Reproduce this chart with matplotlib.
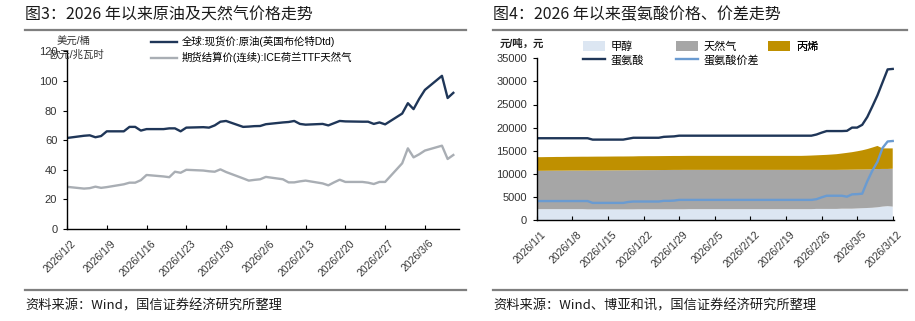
import pandas as pd
import numpy as np
import matplotlib
matplotlib.use("Agg")
from matplotlib import pyplot as plt
import matplotlib.transforms as mtransforms
from matplotlib.lines import Line2D

plt.rcParams['font.family'] = ['Liberation Sans', 'Noto Sans CJK SC', 'DejaVu Sans']
plt.rcParams['axes.unicode_minus'] = False

# ---------------- left chart: Brent / TTF (business days) ----------------
oil_dates = pd.bdate_range('2026-01-02', '2026-03-11')
brent = [61.5, 63.0, 63.3, 62.0, 62.8, 66.0, 66.0, 69.0, 69.0, 66.5, 67.5, 67.5, 68.0, 68.0,
         66.0, 68.5, 68.8, 68.5, 70.0, 72.5, 73.0,
         69.0, 69.2, 69.5, 69.6, 70.8, 72.0, 72.3, 73.0, 71.0, 70.5, 71.0, 70.0, 71.5, 73.0,
         72.7, 72.5, 72.5, 71.0, 72.0, 70.7,
         78.0, 85.0, 81.0, 88.0, 94.0, 103.5, 88.5, 92.0]
ttf = [28.5, 27.3, 27.6, 28.6, 27.8, 28.3, 30.2, 31.3, 31.3, 33.0, 36.5, 35.5, 35.0, 38.7,
       38.0, 40.0, 39.5, 39.0, 38.7, 40.3, 38.5,
       34.2, 32.7, 33.2, 33.6, 35.2, 33.6, 31.5, 31.5, 32.2, 32.7, 30.8, 29.5, 31.5, 33.3,
       31.8, 31.8, 31.3, 30.4, 31.8, 31.8,
       44.4, 54.5, 48.4, 50.5, 53.0, 56.3, 47.3, 50.0]
oil_ticks = pd.date_range('2026-01-02', '2026-03-06', freq='7D')

# ---------------- right chart: methionine (daily) ----------------
met_dates = pd.date_range('2026-01-01', '2026-03-12')
methanol = [2350] * 10 + [2300] * 10 + [2320] * 10 + [2350] * 25 + [2400] * 5 + \
           [2450, 2450, 2450, 2500, 2550, 2600, 2650, 2750, 2900, 3000, 2900]
gas = [8300, 8300, 8310, 8320, 8330, 8330, 8340, 8350, 8350, 8360,
       8400, 8410, 8420, 8420, 8430, 8440, 8450, 8450, 8460, 8470,
       8460, 8470, 8480, 8480, 8490, 8500, 8510, 8520, 8520, 8530] + [8500] * 25 + \
      [8450] * 5 + [8420, 8430, 8450, 8420, 8380, 8350, 8330, 8280, 8150, 8050, 8200]
propylene = [2950, 2950, 2960, 2960, 2970, 2970, 2980, 2980, 2990, 2990] + [3000] * 10 + \
            [3020] * 10 + [3030] * 23 + \
            [3060, 3100, 3150, 3200, 3250, 3320, 3400, 3520, 3650, 3780, 3950, 4150, 4400,
             4700, 5000, 4450, 4450, 4400]
methionine = [17700] * 11 + [17400] * 7 + [17600] + [17800] * 6 + [18000, 18050, 18100] + \
             [18250] * 27 + [18500, 18900, 19250, 19250, 19250, 19250, 19300, 20000, 20000,
                             20600, 22300, 24600, 27000, 29800, 32600, 32700]
spread = [4100] * 11 + [3700] * 7 + [3900] + [4000] * 6 + [4150, 4150, 4200] + \
         [4350] * 27 + [4500, 4900, 5250, 5250, 5250, 5250, 5050, 5550, 5600,
                        5700, 8400, 10700, 12600, 15600, 17000, 17100]
met_ticks = pd.date_range('2026-01-01', '2026-03-12', freq='7D')

W, H = 915, 321
fig = plt.figure(figsize=(W / 100, H / 100), dpi=100)


def fx(px):
    return px / W


def fy(py):
    return 1 - py / H


title_font = dict(family=['Noto Sans CJK SC'], fontsize=11.5, color='#1a1a1a')
src_font = dict(family=['Noto Sans CJK SC'], fontsize=9.5, color='#1a1a1a')

fig.text(fx(25), fy(15), '图3：2026 年以来原油及天然气价格走势', va='center', ha='left', **title_font)
fig.text(fx(493), fy(15), '图4：2026 年以来蛋氨酸价格、价差走势', va='center', ha='left', **title_font)
for x0, x1 in [(25, 466), (493, 907)]:
    fig.add_artist(Line2D([fx(x0), fx(x1)], [fy(30), fy(30)], color='#7f7f7f', lw=1.6))
    fig.add_artist(Line2D([fx(x0), fx(x1)], [fy(290), fy(290)], color='#7f7f7f', lw=1.6))
fig.text(fx(25), fy(306), '资料来源：Wind，国信证券经济研究所整理', va='center', ha='left', **src_font)
fig.text(fx(493), fy(306), '资料来源：Wind、博亚和讯，国信证券经济研究所整理', va='center', ha='left', **src_font)

label_shift = mtransforms.ScaledTranslation(0.04, -0.05, fig.dpi_scale_trans)


def style_axes(ax, ticks):
    for s in ['top', 'right']:
        ax.spines[s].set_visible(False)
    for s in ['left', 'bottom']:
        ax.spines[s].set_linewidth(1.0)
        ax.spines[s].set_color('black')
    ax.tick_params(axis='y', direction='out', length=3, width=0.8, labelsize=8,
                   labelcolor='#333333', pad=4)
    ax.tick_params(axis='x', direction='in', length=3, width=0.8, labelsize=7.5,
                   labelcolor='#333333', pad=3)
    ax.set_xticks(ticks)
    ax.set_xticklabels([f'{d.year}/{d.month}/{d.day}' for d in ticks], rotation=45,
                       ha='right', rotation_mode='anchor')
    for lab in ax.get_xticklabels():
        lab.set_transform(lab.get_transform() + label_shift)


# ---- left axes
ax1 = fig.add_axes([fx(67), fy(229), fx(459 - 67), (229 - 51.4) / H])
ax1.plot(oil_dates, brent, color='#1f3658', lw=1.7, label='全球:现货价:原油(英国布伦特Dtd)')
ax1.plot(oil_dates, ttf, color='#a9aeb4', lw=1.7, label='期货结算价(连续):ICE荷兰TTF天然气')
ax1.set_ylim(0, 120)
ax1.set_yticks(range(0, 121, 20))
ax1.set_xlim(pd.Timestamp('2026-01-02'), pd.Timestamp('2026-03-12'))
style_axes(ax1, oil_ticks)
ax1.legend(loc='upper left', bbox_to_anchor=(0.215, 1.085), frameon=False, fontsize=7.5,
           handlelength=2.5, handletextpad=0.4, labelspacing=0.45, borderpad=0,
           borderaxespad=0)
fig.text(fx(74), fy(41), '美元/桶', ha='center', va='center', fontsize=7.5, color='#333333')
fig.text(fx(77), fy(55), '欧元/兆瓦时', ha='center', va='center', fontsize=7.5, color='#333333')

# ---- right axes
ax2 = fig.add_axes([fx(536.7), fy(220), fx(894 - 536.7), (220 - 58.3) / H])
ax2.stackplot(met_dates, methanol, gas, propylene,
              colors=['#dce6f2', '#a6a6a6', '#bf9000'], labels=['甲醇', '天然气', '丙烯'])
ax2.plot(met_dates, methionine, color='#1f3658', lw=1.7, label='蛋氨酸')
ax2.plot(met_dates, spread, color='#6a9bd1', lw=1.7, label='蛋氨酸价差')
ax2.set_ylim(0, 35000)
ax2.set_yticks(range(0, 35001, 5000))
ax2.set_xlim(pd.Timestamp('2026-01-01'), pd.Timestamp('2026-03-12 06:00'))
style_axes(ax2, met_ticks)

h, l = ax2.get_legend_handles_labels()
leg_kw = dict(loc='upper left', frameon=False, fontsize=8, handlelength=2.0,
              handleheight=0.9, handletextpad=0.5, labelspacing=0.25, borderpad=0,
              borderaxespad=0)
ax_w = 894 - 536.7
groups = [([0, 3], 583), ([1, 4], 676), ([2], 768)]
for idx, x_px in groups:
    lg = ax2.legend([h[i] for i in idx], [l[i] for i in idx],
                    bbox_to_anchor=((x_px - 536.7) / ax_w, 1.105), **leg_kw)
    ax2.add_artist(lg)
fig.text(fx(522), fy(44), '元/吨，元', ha='center', va='center', fontsize=7.5,
         fontweight='bold', color='#222222')

fig.savefig('out.png', dpi=100)
